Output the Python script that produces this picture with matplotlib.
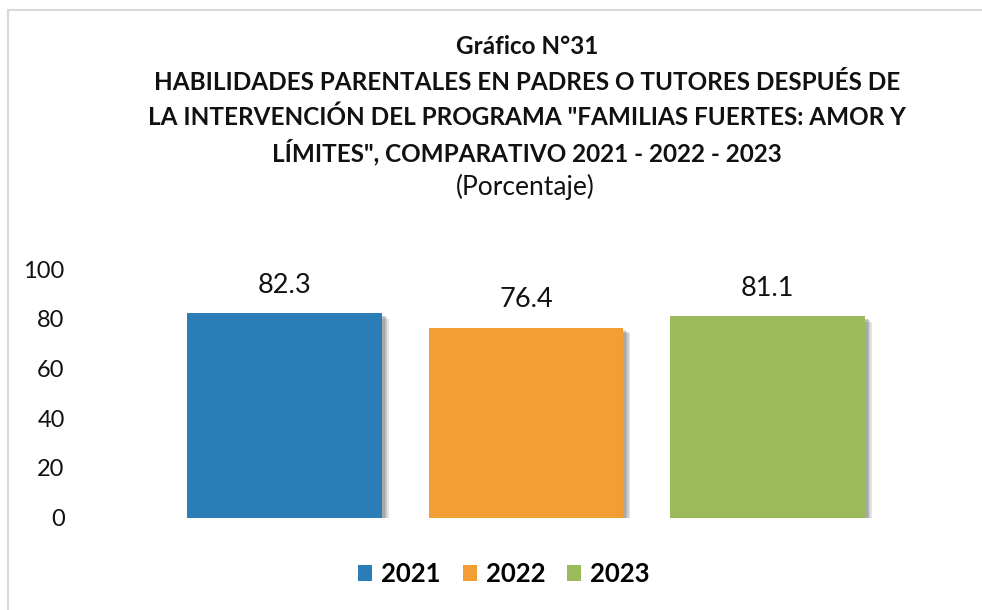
import matplotlib

matplotlib.use("Agg")
import matplotlib.pyplot as plt
import matplotlib.patheffects as pe
from matplotlib.lines import Line2D
from matplotlib.patches import Patch

years = ["2021", "2022", "2023"]
values = [82.3, 76.4, 81.1]
bar_colors = ["#2A7DB7", "#F39D35", "#9BBA59"]
y_ticks = [0, 20, 40, 60, 80, 100]

title_lines = [
    "Gráfico N°31",
    "HABILIDADES PARENTALES EN PADRES O TUTORES DESPUÉS DE",
    'LA INTERVENCIÓN DEL PROGRAMA "FAMILIAS FUERTES: AMOR Y',
    'LÍMITES", COMPARATIVO 2021 - 2022 - 2023',
]
subtitle = "(Porcentaje)"

plt.rcParams["font.family"] = ["Lato", "DejaVu Sans"]

W, H = 982, 610
fig = plt.figure(figsize=(W / 100, H / 100), dpi=100)

# axes placed in pixel terms: left 80, right 960, bottom y=517.5, top y=269
ax = fig.add_axes([80 / W, 1 - 517.5 / H, 880 / W, 248.5 / H])

x = list(range(len(years)))
bars = ax.bar(x, values, width=0.805, color=bar_colors, zorder=2)
# soft drop shadow, built from a few stacked offsets
shadow = [
    pe.SimplePatchShadow(offset=(dx, -dy), shadow_rgbFace="#555555", alpha=0.16)
    for dx, dy in [(5, 4), (4, 3), (3, 2.5), (2, 2)]
]
for b in bars:
    b.set_path_effects(shadow + [pe.Normal()])

for xi, v in zip(x, values):
    ax.annotate(f"{v:.1f}", (xi, v), xytext=(0, 11), textcoords="offset points",
                ha="center", va="bottom", fontsize=19.5, color="#111111")

ax.set_ylim(0, 100)
ax.set_xlim(-0.847, 2.797)
ax.set_yticks(y_ticks)
ax.set_xticks([])
ax.tick_params(axis="y", length=0, pad=11, labelsize=17, labelcolor="#111111")
for s in ax.spines.values():
    s.set_visible(False)

# titles
title_y = [46, 82, 117, 152]
for line, yy in zip(title_lines, title_y):
    fig.text(527 / W, 1 - yy / H, line, ha="center", va="center",
             fontsize=17.5, fontweight="bold", color="#111111")
fig.text(525 / W, 1 - 187 / H, subtitle, ha="center", va="center",
         fontsize=19, color="#111111")

# legend
handles = [Patch(facecolor=c, edgecolor="none") for c in bar_colors]
fig.legend(handles, years, loc="center", bbox_to_anchor=(504 / W, 1 - 574 / H),
           ncol=3, frameon=False, handlelength=0.55, handleheight=0.55,
           handletextpad=0.35, columnspacing=0.85,
           prop={"size": 18.5, "weight": "bold"})

# outer chart frame (top and left edges visible)
fig.add_artist(Line2D([8 / W, 1], [1 - 10 / H, 1 - 10 / H], color="#D9D9D9", lw=1.5))
fig.add_artist(Line2D([8 / W, 8 / W], [0, 1 - 10 / H], color="#D9D9D9", lw=1.5))

fig.savefig("out.png", dpi=100)
